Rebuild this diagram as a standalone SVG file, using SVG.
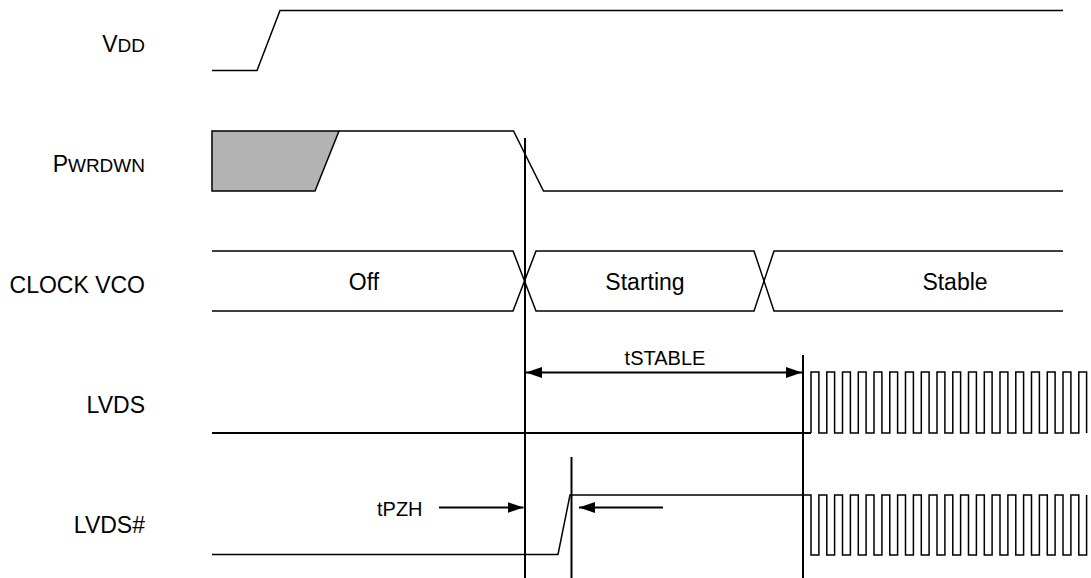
<svg xmlns="http://www.w3.org/2000/svg" width="1091" height="578" viewBox="0 0 1091 578">
<defs>
<style>
.w{fill:none;stroke:#000;stroke-width:1.5;stroke-linejoin:miter}
.v{fill:none;stroke:#000;stroke-width:2}
.lbl{font-family:"Liberation Sans",Arial,sans-serif;font-size:23px;fill:#000;text-anchor:end}
.st{font-family:"Liberation Sans",Arial,sans-serif;font-size:23px;fill:#000;text-anchor:middle}
.tm{font-family:"Liberation Sans",Arial,sans-serif;font-size:20px;fill:#000}
.sc{font-size:19px}
.ar{fill:none;stroke:#000;stroke-width:2}
</style>
<marker id="ah" viewBox="0 0 16 11" refX="16" refY="5.5" markerWidth="16" markerHeight="11" markerUnits="userSpaceOnUse" orient="auto-start-reverse">
<path d="M0,0 L16,5.5 L0,11 Z" fill="#000"/>
</marker>
</defs>
<rect width="1091" height="578" fill="#fff"/>

<g id="vdd">
<text class="lbl" x="145" y="52">V<tspan class="sc">DD</tspan></text>
<path class="w" d="M212,70.5 H257 L280,10.5 H1063"/>
</g>

<g id="pwrdwn">
<text class="lbl" x="145" y="172">P<tspan class="sc">WRDWN</tspan></text>
<path d="M212,131 H339 L315,191 H212 Z" fill="#b3b3b3" stroke="#000" stroke-width="1.5"/>
<path class="w" d="M339,131 H513.5 L543.5,191 H1063"/>
</g>

<g id="clockvco">
<text class="lbl" x="145" y="293">CLOCK VCO</text>
<path class="w" d="M212,251 H513 L536,311 H754 L774,251 H1063"/>
<path class="w" d="M212,311 H513 L536,251 H754 L774,311 H1063"/>
<text class="st" x="364" y="290">Off</text>
<text class="st" x="645" y="290">Starting</text>
<text class="st" x="955" y="290">Stable</text>
</g>

<g id="lvds">
<text class="lbl" x="145" y="413">LVDS</text>
<path class="v" d="M212,433 H811"/>
<path class="w" d="M811,433 V372 H818.9 V433 H826.8 V372 H834.6 V433 H842.5 V372 H850.4 V433 H858.3 V372 H866.1 V433 H874 V372 H881.9 V433 H889.8 V372 H897.6 V433 H905.5 V372 H913.4 V433 H921.3 V372 H929.1 V433 H937 V372 H944.9 V433 H952.8 V372 H960.6 V433 H968.5 V372 H976.4 V433 H984.3 V372 H992.1 V433 H1000 V372 H1007.9 V433 H1015.8 V372 H1023.6 V433 H1031.5 V372 H1039.4 V433 H1047.3 V372 H1055.1 V433 H1063 V372 H1070.9 V433 H1078.8 V372 H1086.6 V433"/>
</g>

<g id="lvdsn">
<text class="lbl" x="145" y="533">LVDS#</text>
<path class="w" d="M212,554.5 H558 L570,495 H811 V555 H818.9 V495 H826.8 V555 H834.6 V495 H842.5 V555 H850.4 V495 H858.3 V555 H866.1 V495 H874 V555 H881.9 V495 H889.8 V555 H897.6 V495 H905.5 V555 H913.4 V495 H921.3 V555 H929.1 V495 H937 V555 H944.9 V495 H952.8 V555 H960.6 V495 H968.5 V555 H976.4 V495 H984.3 V555 H992.1 V495 H1000 V555 H1007.9 V495 H1015.8 V555 H1023.6 V495 H1031.5 V555 H1039.4 V495 H1047.3 V555 H1055.1 V495 H1063 V555 H1070.9 V495 H1078.8 V555 H1086.6 V495"/>
</g>

<g id="connectors">
<path class="v" d="M525,138 V578"/>
<path class="v" d="M803,355 V578"/>
<path class="v" d="M571.5,457 V578"/>
<path class="ar" d="M526,372.5 H802" marker-start="url(#ah)" marker-end="url(#ah)"/>
<path class="ar" d="M439,507.5 H523.5" marker-end="url(#ah)"/>
<path class="ar" d="M663,507.5 H579" marker-end="url(#ah)"/>
<text class="tm" x="665" y="365" text-anchor="middle">tSTABLE</text>
<text class="tm" x="377" y="516">tPZH</text>
</g>
</svg>
